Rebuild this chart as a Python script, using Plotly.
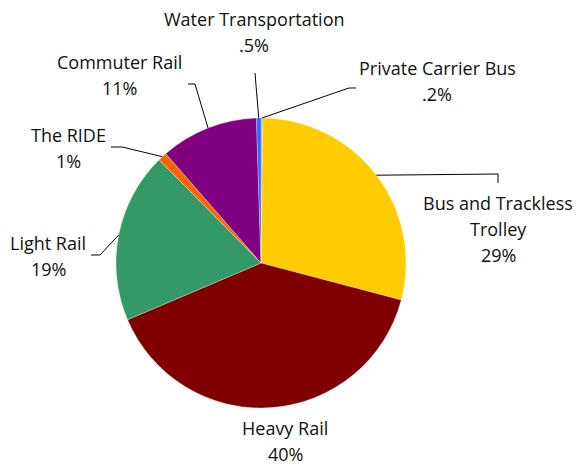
import math
import plotly.graph_objects as go

# Data (clockwise from 12 o'clock)
categories = ["Private Carrier Bus", "Bus and Trackless Trolley", "Heavy Rail",
              "Light Rail", "The RIDE", "Commuter Rail", "Water Transportation"]
shares = [0.2, 28.9, 39.5, 19.0, 1.0, 10.9, 0.5]
colors = ["#8EA9DB", "#FFCC00", "#800000", "#339966", "#FF6600", "#800080", "#3366FF"]


def pct_text(v):
    if v < 1:
        return ("%.1f%%" % v).lstrip("0")
    return "%d%%" % round(v)


W, H = 578, 465
cx, cy, R = 261, 263, 145

# label layout (pixel positions): name lines, text center x, first line y, elbow, end
label_layout = {
    "Private Carrier Bus": dict(lines=["Private Carrier Bus"], x=437, y=68, elbow=(349, 88), end=(356, 88)),
    "Bus and Trackless Trolley": dict(lines=["Bus and Trackless", "Trolley"], x=498, y=203, elbow=(498, 174), end=(498, 183)),
    "Heavy Rail": dict(lines=["Heavy Rail"], x=285, y=428, elbow=None, end=None),
    "Light Rail": dict(lines=["Light Rail"], x=48, y=243, elbow=(100, 255), end=(91, 255)),
    "The RIDE": dict(lines=["The RIDE"], x=68, y=135, elbow=(122, 147), end=(111, 147)),
    "Commuter Rail": dict(lines=["Commuter Rail"], x=119, y=62, elbow=(195, 84), end=(188, 84)),
    "Water Transportation": dict(lines=["Water Transportation"], x=254, y=19, elbow=None, end=(255, 73)),
}

LINE_H = 26
FONT = dict(family="Open Sans, Liberation Sans, Arial, sans-serif", size=18, color="#111111")


def px(x):
    return x / W


def py(y):
    return 1 - y / H


fig = go.Figure(go.Pie(
    labels=categories, values=shares, sort=False, direction="clockwise", rotation=0,
    marker=dict(colors=colors, line=dict(color="white", width=0.3)),
    textinfo="none", hoverinfo="label+percent", showlegend=False,
    domain=dict(x=[px(cx - R), px(cx + R)], y=[py(cy + R), py(cy - R)]),
))

annotations = []
shapes = []
total = sum(shares)
cum = 0.0
for name, v in zip(categories, shares):
    mid = (cum + v / 2) / total * 2 * math.pi
    cum += v
    lay = label_layout[name]
    texts = lay["lines"] + [pct_text(v)]
    for i, t in enumerate(texts):
        annotations.append(dict(x=px(lay["x"]), y=py(lay["y"] + i * LINE_H), xref="paper", yref="paper",
                                text=t, showarrow=False, font=FONT, xanchor="center", yanchor="middle"))
    if lay["end"] is not None:
        sx = cx + R * math.sin(mid)
        sy = cy - R * math.cos(mid)
        pts = [(sx, sy)]
        if lay["elbow"] is not None:
            pts.append(lay["elbow"])
        pts.append(lay["end"])
        path = "M " + " L ".join("%f,%f" % (px(a), py(b)) for a, b in pts)
        shapes.append(dict(type="path", path=path, xref="paper", yref="paper",
                           line=dict(color="#000000", width=1)))

fig.update_layout(
    width=W, height=H, margin=dict(l=0, r=0, t=0, b=0),
    paper_bgcolor="white", plot_bgcolor="white",
    annotations=annotations, shapes=shapes,
)

fig.write_html("out.html", config={"displayModeBar": False},
               post_script="document.body.style.margin='0';document.body.style.padding='0';")
